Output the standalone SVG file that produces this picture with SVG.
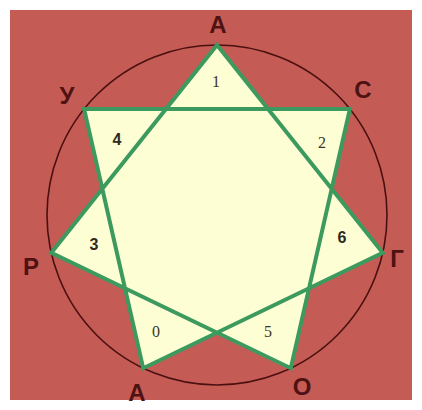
<svg xmlns="http://www.w3.org/2000/svg" width="422" height="410" viewBox="0 0 422 410">
<style>
.lbl{font-family:"Liberation Sans",Arial,sans-serif;font-weight:bold;font-size:24px;fill:#4e1212;text-anchor:middle}
.ns{font-family:"Liberation Sans",Arial,sans-serif;font-weight:bold;font-size:16px;fill:#2e2a1e;text-anchor:middle}
.nf{font-family:"Liberation Serif","Times New Roman",serif;font-size:16px;fill:#3a3526;text-anchor:middle}
.edge{fill:none;stroke:#3d9a5e;stroke-width:4;stroke-linejoin:miter;stroke-miterlimit:10}
</style>
<rect width="422" height="410" fill="#ffffff"/>
<rect x="10" y="10" width="402" height="390" fill="#c55b55"/>
<circle cx="217" cy="215" r="170" fill="none" stroke="#4a1010" stroke-width="1.6"/>
<g id="star">
<polygon points="217,45 382.7,252.8 143.2,368.2 84.1,109 349.9,109 290.8,368.2 51.3,252.8" fill="#fefed4"/>
</g>
<g id="connectors">
<polygon class="edge" points="217,45 382.7,252.8 143.2,368.2 84.1,109 349.9,109 290.8,368.2 51.3,252.8"/>
</g>
<g id="node-A-top"><text class="lbl" x="218" y="33">A</text><text class="nf" x="216" y="87">1</text></g>
<g id="node-C"><text class="lbl" x="363" y="98">C</text><text class="nf" x="322" y="148">2</text></g>
<g id="node-G"><text class="lbl" x="397" y="267">Г</text><text class="ns" x="342" y="243">6</text></g>
<g id="node-O"><text class="lbl" x="302" y="395">O</text><text class="nf" x="268" y="337">5</text></g>
<g id="node-A-bottom"><text class="lbl" x="137" y="401">A</text><text class="nf" x="156" y="337">0</text></g>
<g id="node-P"><text class="lbl" x="31" y="275">P</text><text class="ns" x="94" y="250">3</text></g>
<g id="node-U"><text class="lbl" x="67" y="104">У</text><text class="ns" x="117" y="145">4</text></g>
</svg>
